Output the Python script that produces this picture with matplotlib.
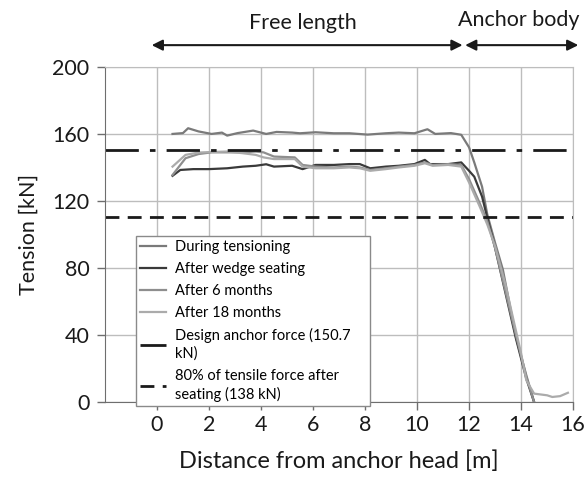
import matplotlib
matplotlib.use('Agg')
import matplotlib.pyplot as plt

# distance from anchor head [m] and tension [kN]
x_tension = [0.6, 1.0, 1.2, 1.6, 2.1, 2.5, 2.7, 3.1, 3.7, 4.2, 4.6, 5.2, 5.5, 6.1, 6.8,
             7.4, 8.1, 8.8, 9.3, 9.9, 10.4, 10.7, 11.3, 11.7, 12.0, 12.2, 12.5, 12.7,
             13.0, 13.3, 13.8, 14.2, 14.5]
y_tension = [160.0, 160.5, 163.4, 161.5, 160.0, 160.8, 159.0, 160.5, 162.0, 160.0, 161.2,
             160.8, 160.4, 161.0, 160.4, 160.4, 159.6, 160.4, 160.8, 160.4, 162.8, 160.0,
             160.5, 159.5, 152.0, 143.0, 128.5, 112.0, 95.0, 79.0, 39.0, 16.0, 0.0]

x_wedge = [0.6, 0.9, 1.4, 2.0, 2.7, 3.3, 3.8, 4.2, 4.5, 5.2, 5.6, 6.1, 6.8, 7.4, 7.8,
           8.2, 8.8, 9.3, 9.9, 10.3, 10.5, 11.2, 11.7, 12.0, 12.2, 12.5, 12.7, 13.0,
           13.4, 13.8, 14.2, 14.5]
y_wedge = [135.0, 138.5, 139.0, 139.0, 139.5, 140.5, 141.0, 141.9, 140.5, 141.0, 139.0,
           141.5, 141.5, 142.0, 142.0, 139.5, 140.5, 141.0, 142.0, 144.5, 142.0, 142.0,
           143.0, 138.0, 134.5, 122.6, 110.0, 92.0, 65.0, 38.0, 14.0, 0.0]

x_6m = [0.6, 1.1, 1.6, 2.1, 2.7, 3.3, 3.8, 4.1, 4.5, 5.3, 5.6, 6.1, 6.8, 7.4, 7.8, 8.2,
        8.8, 9.3, 9.9, 10.3, 10.6, 11.2, 11.7, 12.0, 12.4, 12.7, 13.0, 13.4, 13.8, 14.2,
        14.5]
y_6m = [135.5, 145.5, 148.0, 149.0, 149.0, 149.0, 149.5, 149.0, 146.5, 146.0, 141.5,
        140.5, 140.0, 140.5, 140.0, 138.5, 139.5, 140.5, 141.5, 143.0, 141.5, 142.0,
        141.5, 133.0, 119.0, 108.0, 92.0, 66.0, 40.0, 15.0, 0.0]

x_18m = [0.6, 1.1, 1.6, 2.1, 2.7, 3.3, 3.8, 4.1, 4.5, 5.3, 5.6, 6.1, 6.8, 7.4, 7.8, 8.2,
         8.8, 9.3, 9.9, 10.3, 10.6, 11.2, 11.7, 12.0, 12.4, 12.7, 13.0, 13.4, 14.0,
         14.2, 14.5, 15.0, 15.2, 15.5, 15.8]
y_18m = [140.5, 147.5, 148.9, 149.2, 149.5, 148.5, 147.5, 146.0, 145.0, 145.0, 140.5,
         139.5, 139.5, 140.0, 139.5, 138.0, 139.0, 140.0, 141.0, 142.5, 141.0, 141.5,
         140.5, 131.0, 117.0, 106.0, 93.0, 70.0, 29.0, 13.0, 5.0, 4.0, 3.0, 3.5, 5.5]

design_force = 150.7
seating_80 = 110.4

x_ticks = [0, 2, 4, 6, 8, 10, 12, 14, 16]
y_ticks = [0, 40, 80, 120, 160, 200]

plt.rcParams['font.family'] = ['Lato', 'DejaVu Sans']

fig = plt.figure(figsize=(5.86, 4.78), dpi=100)
ax = fig.add_axes([0.179, 0.159, 0.799, 0.701])

ax.plot(x_tension, y_tension, color='#7a7a7a', lw=1.6, label='During tensioning')
ax.plot(x_wedge, y_wedge, color='#3a3a3a', lw=1.6, label='After wedge seating')
ax.plot(x_6m, y_6m, color='#8e8e8e', lw=1.6, label='After 6 months')
ax.plot(x_18m, y_18m, color='#ababab', lw=1.6, label='After 18 months')
ax.axhline(design_force, color='#1a1a1a', lw=2.0, dashes=(12, 4, 2, 4),
           label='Design anchor force (150.7\nkN)')
ax.axhline(seating_80, color='#1a1a1a', lw=2.0, dashes=(5, 3),
           label='80% of tensile force after\nseating (138 kN)')

ax.set_xlim(-2, 16)
ax.set_ylim(0, 200)
ax.set_xticks(x_ticks)
ax.set_yticks(y_ticks)
ax.grid(True, color='#bdbdbd', lw=1.0)
ax.set_axisbelow(True)
for s in ax.spines.values():
    s.set_color('#bdbdbd')
ax.spines['left'].set_color('#6e6e6e')
ax.spines['bottom'].set_color('#6e6e6e')
ax.tick_params(axis='both', direction='out', color='#6e6e6e', labelsize=15.5,
               labelcolor='#1a1a1a', length=6, width=1)
ax.tick_params(axis='y', pad=5)
ax.set_xlabel('Distance from anchor head [m]', fontsize=17, color='#1a1a1a', labelpad=11)
ax.set_ylabel('Tension [kN]', fontsize=15.5, color='#1a1a1a', labelpad=10)

leg = ax.legend(loc='upper left', bbox_to_anchor=(0.066, 0.496, 0.5, 0.0),
                mode='expand', borderaxespad=0, fancybox=False, edgecolor='#8a8a8a',
                framealpha=1, fontsize=10.5, handlelength=1.8, handletextpad=0.6,
                labelspacing=0.55, borderpad=0.3)
leg.get_frame().set_linewidth(1.0)
for t in leg.get_texts():
    t.set_linespacing(1.3)

# annotation arrows over the plot
arrow = dict(arrowstyle='<|-|>', color='#1a1a1a', lw=1.5, mutation_scale=16,
             shrinkA=0, shrinkB=0)
ax.annotate('', xy=(-0.2, 213), xytext=(11.75, 213), arrowprops=arrow,
            annotation_clip=False)
ax.annotate('', xy=(11.85, 213), xytext=(16.2, 213), arrowprops=arrow,
            annotation_clip=False)
ax.text(5.6, 220, 'Free length', fontsize=15.5, ha='center', va='bottom',
        color='#1a1a1a', clip_on=False)
ax.text(13.9, 222, 'Anchor body', fontsize=15.5, ha='center', va='bottom',
        color='#1a1a1a', clip_on=False)

fig.savefig('out.png', dpi=100)
